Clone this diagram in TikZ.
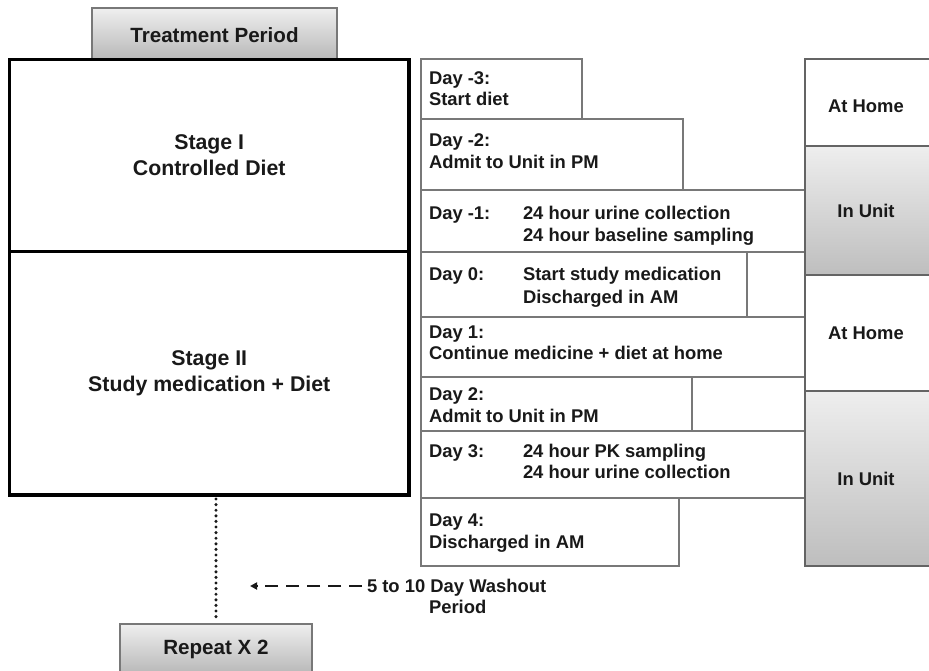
\documentclass[tikz,border=0pt]{standalone}
\usepackage{fontspec}
\setmainfont{Liberation Sans}
\usetikzlibrary{arrows.meta}
\definecolor{boxgray}{RGB}{120,120,120}
\definecolor{edgegray}{RGB}{100,100,100}
\definecolor{shadetop}{RGB}{238,238,238}
\definecolor{shadebot}{RGB}{190,190,190}
\definecolor{txt}{RGB}{25,25,25}
\begin{document}
\begin{tikzpicture}[x=1pt,y=-1pt,
  every node/.style={font=\bfseries\fontsize{18.4}{21}\selectfont, text=txt},
  bigfont/.style={font=\bfseries\fontsize{21.3}{26}\selectfont},
  tabfont/.style={font=\bfseries\fontsize{20.6}{24}\selectfont},
  daybox/.style={draw=boxgray, line width=1.6pt, anchor=north west, inner sep=0pt, outer sep=0pt},
  colbox/.style={draw=edgegray, line width=1.6pt, anchor=north west, inner sep=0pt, outer sep=0pt, minimum width=126pt},
  homebox/.style={colbox, fill=white},
  unitbox/.style={colbox, top color=shadetop, bottom color=shadebot},
  tabbox/.style={draw=boxgray, line width=1.3pt, anchor=north west, inner sep=0pt, outer sep=0pt, top color=shadetop!95!white, bottom color=shadebot!110!white},
  stagebox/.style={draw=black, line width=3.8pt, anchor=north west, inner sep=0pt, outer sep=0pt, align=center, bigfont},
  daytext/.style={anchor=base west, inner sep=0pt, outer sep=0pt},
  dotline/.style={draw=txt, line width=3.4pt, line cap=round, dash pattern=on 0pt off 5.6pt},
  washarrow/.style={draw=txt, line width=2.8pt, dash pattern=on 13pt off 8pt, -{Triangle[length=7pt,width=7pt]}}
]
\useasboundingbox (0,0) rectangle (929,671);
% tab
\node[tabbox, minimum width=245pt, minimum height=52pt] (tab) at (92,8) {};
\node[tabfont] (tabtxt) at (214.5,35) {Treatment Period};
% stages
\node[stagebox, minimum width=399.5pt, minimum height=192pt] (s1) at (9.5,59.5) {Stage I\\Controlled Diet};
\node[stagebox, minimum width=399.5pt, minimum height=243.5pt] (s2) at (9.5,251.5) {Stage II\\Study medication + Diet};
% day boxes
\node[daybox, minimum width=161pt, minimum height=60pt] (dm3) at (421,59) {};
\node[daybox, minimum width=262pt, minimum height=71pt] (dm2) at (421,119) {};
\node[daybox, minimum width=384pt, minimum height=62pt] (dm1) at (421,190) {};
\node[daybox, minimum width=326pt, minimum height=65pt] (d0) at (421,252) {};
\node[daybox, minimum width=58pt, minimum height=65pt] (e0) at (747,252) {};
\node[daybox, minimum width=384pt, minimum height=60pt] (d1) at (421,317) {};
\node[daybox, minimum width=271pt, minimum height=54pt] (d2) at (421,377) {};
\node[daybox, minimum width=113pt, minimum height=54pt] (e2) at (692,377) {};
\node[daybox, minimum width=384pt, minimum height=67pt] (d3) at (421,431) {};
\node[daybox, minimum width=258pt, minimum height=68pt] (d4) at (421,498) {};
% right column
\node[homebox, minimum height=87pt] (h1) at (805,59) {};
\node (h1t) at ([xshift=-2pt,yshift=-4pt]h1.center) {At Home};
\node[unitbox, minimum height=129pt] (u1) at (805,146) {};
\node (u1t) at ([xshift=-2pt]u1.center) {In Unit};
\node[homebox, minimum height=116pt] (h2) at (805,275) {};
\node (h2t) at ([xshift=-2pt]h2.center) {At Home};
\node[unitbox, minimum height=175pt] (u2) at (805,391) {};
\node (u2t) at ([xshift=-2pt]u2.center) {In Unit};
% day texts
\node[daytext] (tm3a) at (429,85) {Day -3:};
\node[daytext] (tm3b) at (429,106) {Start diet};
\node[daytext] (tm2a) at (429,147) {Day -2:};
\node[daytext] (tm2b) at (429,169) {Admit to Unit in PM};
\node[daytext] (tm1a) at (429,219) {Day -1:};
\node[daytext] (tm1b) at (523,219) {24 hour urine collection};
\node[daytext] (tm1c) at (523,241) {24 hour baseline sampling};
\node[daytext] (t0a) at (429,280) {Day 0:};
\node[daytext] (t0b) at (523,280) {Start study medication};
\node[daytext] (t0c) at (523,303) {Discharged in AM};
\node[daytext] (t1a) at (429,338) {Day 1:};
\node[daytext] (t1b) at (429,359) {Continue medicine + diet at home};
\node[daytext] (t2a) at (429,400) {Day 2:};
\node[daytext] (t2b) at (429,422) {Admit to Unit in PM};
\node[daytext] (t3a) at (429,457) {Day 3:};
\node[daytext] (t3b) at (523,457) {24 hour PK sampling};
\node[daytext] (t3c) at (523,478) {24 hour urine collection};
\node[daytext] (t4a) at (429,526) {Day 4:};
\node[daytext] (t4b) at (429,548) {Discharged in AM};
% repeat
\node[tabbox, minimum width=192pt, minimum height=50pt] (rep) at (120,624) {};
\node[tabfont] (reptxt) at (216,649) {Repeat X 2};
\draw[dotline] (rep.north |- s2.south) ++(0,4) -- ([yshift=5pt]rep.north);
% washout
\node[daytext] (wash) at (367,592.5) {5 to 10 Day Washout};
\node[daytext] (period) at (429,613.5) {Period};
\coordinate (washend) at (250,586);
\draw[washarrow] ([xshift=-5pt]washend -| wash.west) -- (washend);
\end{tikzpicture}
\end{document}
